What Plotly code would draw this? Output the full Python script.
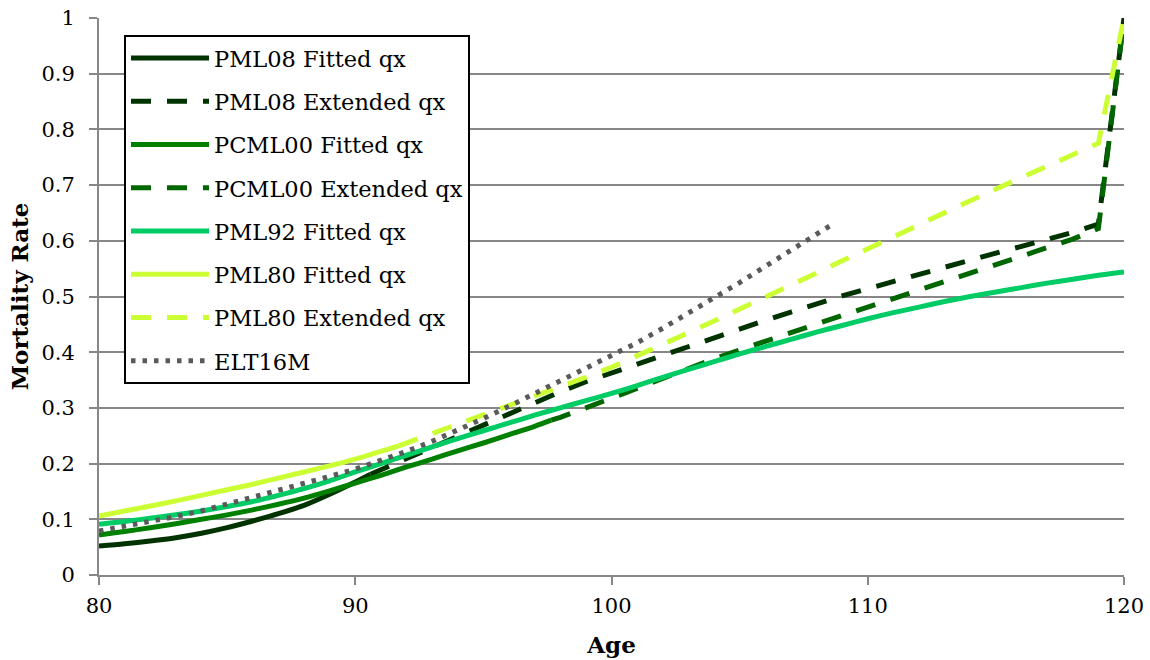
import plotly.graph_objects as go

# Mortality rates (qx) by age for each table
pml08_fit_age = [80, 81, 82, 83, 84, 85, 86, 87, 88, 89, 90, 90.6]
pml08_fit_qx = [0.052, 0.056, 0.061, 0.067, 0.075, 0.085, 0.097, 0.110, 0.125, 0.145, 0.167, 0.181]

pml08_ext_age = [90.6] + list(range(91, 121))
pml08_ext_qx = [0.181, 0.189, 0.209, 0.231, 0.250, 0.269, 0.289, 0.309, 0.329, 0.347, 0.363,
                0.379, 0.395, 0.411, 0.427, 0.442, 0.457, 0.472, 0.487, 0.501, 0.514,
                0.527, 0.541, 0.554, 0.566, 0.578, 0.590, 0.602, 0.615, 0.630, 1.000]

pcml00_fit_age = list(range(80, 98)) + [97.65]
pcml00_fit_qx = [0.072, 0.078, 0.085, 0.092, 0.100, 0.108, 0.117, 0.127, 0.138, 0.151,
                 0.165, 0.179, 0.194, 0.208, 0.223, 0.237, 0.252, 0.267, 0.278]

pcml00_ext_age = [97.65] + list(range(98, 121))
pcml00_ext_qx = [0.278, 0.283, 0.300, 0.318, 0.336, 0.354, 0.371, 0.388, 0.404, 0.420,
                 0.436, 0.451, 0.466, 0.481, 0.496, 0.511, 0.526, 0.541, 0.556, 0.571,
                 0.587, 0.603, 0.622, 1.000]

pml92_fit_age = list(range(80, 121))
pml92_fit_qx = [0.091, 0.096, 0.102, 0.108, 0.115, 0.123, 0.132, 0.143, 0.155, 0.169,
                0.185, 0.200, 0.215, 0.230, 0.245, 0.259, 0.273, 0.287, 0.300, 0.313,
                0.326, 0.340, 0.355, 0.369, 0.383, 0.397, 0.410, 0.423, 0.436, 0.448,
                0.460, 0.471, 0.481, 0.491, 0.500, 0.508, 0.516, 0.524, 0.531, 0.538,
                0.544]

pml80_fit_age = list(range(80, 92)) + [91.7]
pml80_fit_qx = [0.106, 0.115, 0.124, 0.133, 0.143, 0.153, 0.163, 0.174, 0.185, 0.196,
                0.208, 0.222, 0.232]

pml80_ext_age = [91.7] + list(range(92, 121))
pml80_ext_qx = [0.232, 0.237, 0.253, 0.270, 0.287, 0.304, 0.321, 0.338, 0.355, 0.373,
                0.393, 0.414, 0.435, 0.456, 0.477, 0.499, 0.520, 0.542, 0.564, 0.586,
                0.607, 0.629, 0.651, 0.672, 0.693, 0.713, 0.734, 0.755, 0.775, 1.000]

elt16m_age = list(range(80, 109)) + [108.7]
elt16m_qx = [0.079, 0.087, 0.095, 0.105, 0.115, 0.127, 0.139, 0.151, 0.164, 0.177,
             0.190, 0.205, 0.222, 0.240, 0.260, 0.281, 0.303, 0.326, 0.349, 0.372,
             0.393, 0.417, 0.443, 0.470, 0.497, 0.525, 0.554, 0.583, 0.612, 0.632]

FONT = "DejaVu Serif"
GRID = "#878787"
W = 5
DASH = "20px,16px"
DOT = "4.5px,7px"

series = [
    ("PML08 Fitted qx", pml08_fit_age, pml08_fit_qx, "#003300", "solid"),
    ("PML08 Extended qx", pml08_ext_age, pml08_ext_qx, "#003300", DASH),
    ("PCML00 Fitted qx", pcml00_fit_age, pcml00_fit_qx, "#008000", "solid"),
    ("PCML00 Extended qx", pcml00_ext_age, pcml00_ext_qx, "#006600", DASH),
    ("PML92 Fitted qx", pml92_fit_age, pml92_fit_qx, "#00CC66", "solid"),
    ("PML80 Fitted qx", pml80_fit_age, pml80_fit_qx, "#CCFF33", "solid"),
    ("PML80 Extended qx", pml80_ext_age, pml80_ext_qx, "#CCFF33", DASH),
    ("ELT16M", elt16m_age, elt16m_qx, "#5A5A5A", DOT),
]

fig = go.Figure()
for i, (name, ages, qx, color, dash) in enumerate(series):
    smooth = dash == "solid"
    fig.add_trace(go.Scatter(
        x=ages, y=qx, name=name, mode="lines",
        line=dict(color=color, width=W, dash=dash,
                  shape="spline" if smooth else "linear",
                  smoothing=0.8 if smooth else None),
        legendgroup=f"g{i}", hoverinfo="skip",
    ))

fig.update_layout(
    width=1150, height=660,
    margin=dict(l=99, r=26, t=18, b=85),
    plot_bgcolor="white", paper_bgcolor="white",
    font=dict(family=FONT, size=21, color="black"),
    showlegend=True,
    legend=dict(
        x=0.0244, y=0.9695, xanchor="left", yanchor="top",
        bgcolor="white", bordercolor="black", borderwidth=2,
        font=dict(family=FONT, size=22.5, color="black"),
        tracegroupgap=11, itemwidth=78,
    ),
    xaxis=dict(
        range=[80, 120], dtick=10, tick0=80, automargin=False,
        showgrid=False, zeroline=False,
        showline=True, linecolor=GRID, linewidth=2,
        ticks="outside", ticklen=8, tickwidth=1.5, tickcolor=GRID,
        ticklabelstandoff=3,
        tickfont=dict(family=FONT, size=21, color="black"),
        title=dict(text="<b>Age</b>", font=dict(family=FONT, size=23), standoff=20),
    ),
    yaxis=dict(
        range=[0, 1], dtick=0.1, tick0=0, automargin=False,
        showgrid=True, gridcolor=GRID, gridwidth=2, zeroline=False,
        showline=True, linecolor=GRID, linewidth=2,
        ticks="outside", ticklen=8, tickwidth=1.5, tickcolor=GRID,
        ticklabelstandoff=10,
        tickfont=dict(family=FONT, size=21, color="black"),
        title=dict(text="<b>Mortality Rate</b>", font=dict(family=FONT, size=23), standoff=6),
    ),
)

fig.write_html("out.html")
